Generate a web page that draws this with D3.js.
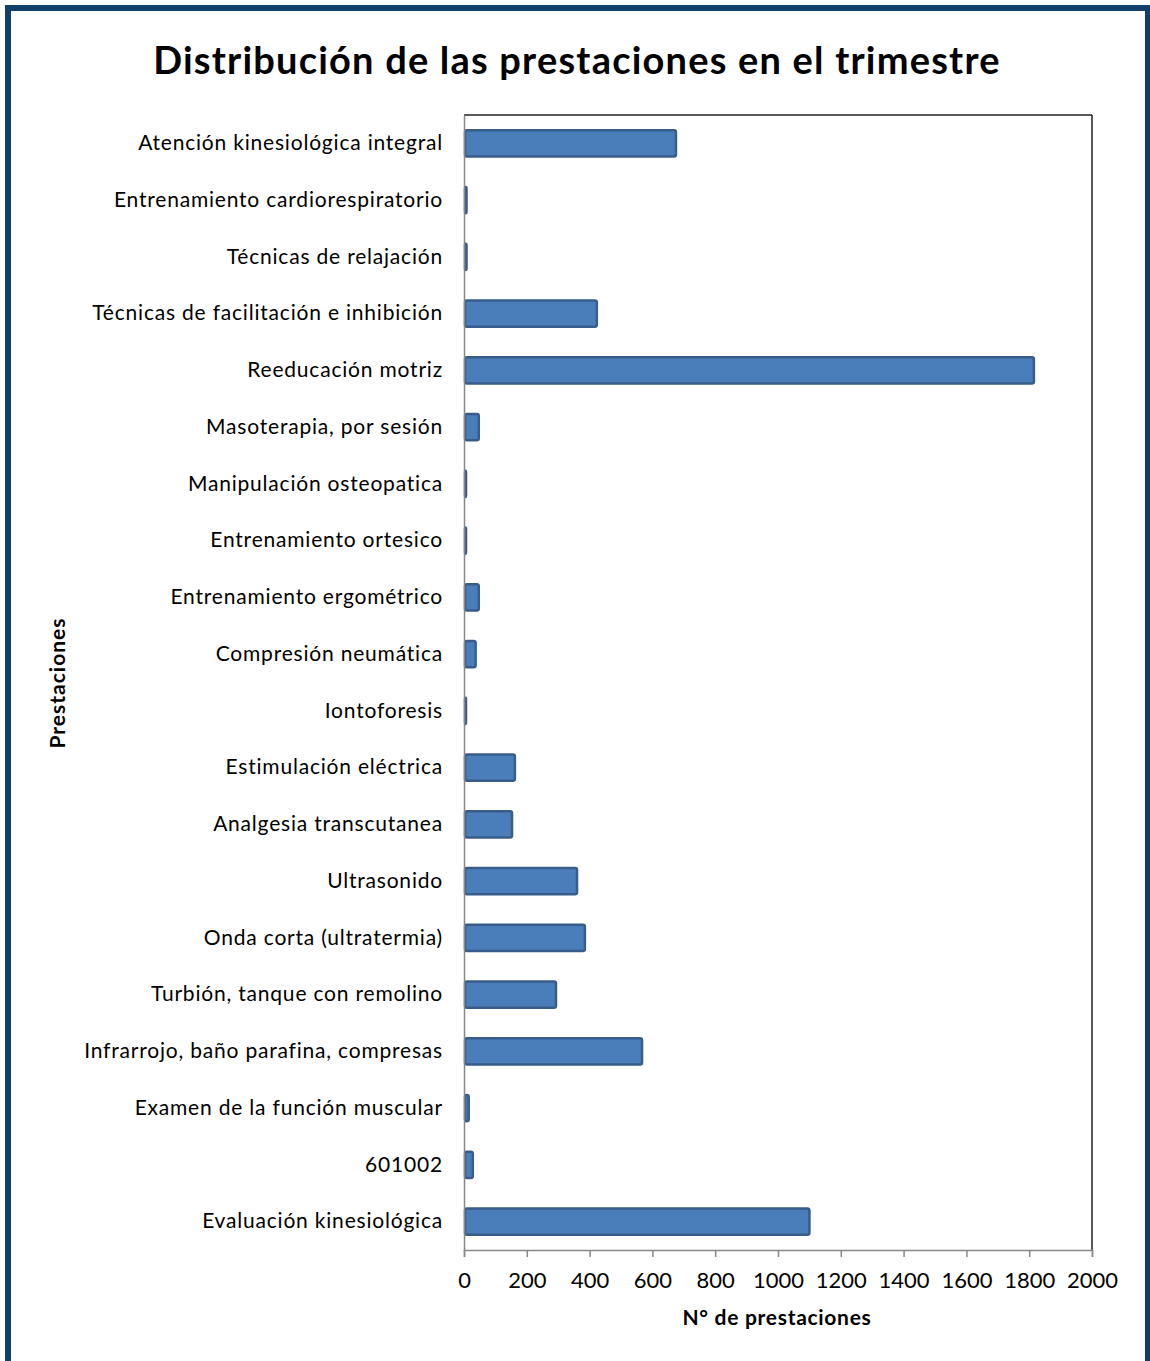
<!DOCTYPE html>
<html>
<head>
<meta charset="utf-8">
<script src="https://cdn.jsdelivr.net/npm/d3@7"></script>
<style>
  html, body { margin: 0; padding: 0; background: #fff; }
  svg { display: block; }
  text { font-family: Lato, "Open Sans", sans-serif; fill: #000; }
</style>
</head>
<body>
<svg id="chart" width="1150" height="1361"></svg>
<script>
const categories = [
  "Atención kinesiológica integral",
  "Entrenamiento cardiorespiratorio",
  "Técnicas de relajación",
  "Técnicas de facilitación e inhibición",
  "Reeducación motriz",
  "Masoterapia, por sesión",
  "Manipulación osteopatica",
  "Entrenamiento ortesico",
  "Entrenamiento ergométrico",
  "Compresión neumática",
  "Iontoforesis",
  "Estimulación eléctrica",
  "Analgesia transcutanea",
  "Ultrasonido",
  "Onda corta (ultratermia)",
  "Turbión, tanque con remolino",
  "Infrarrojo, baño parafina, compresas",
  "Examen de la función muscular",
  "601002",
  "Evaluación kinesiológica"
];
const values = [675, 8, 8, 423, 1815, 47, 6, 5, 47, 37, 5, 162, 153, 360, 385, 293, 567, 15, 28, 1100];
const xTicks = [0, 200, 400, 600, 800, 1000, 1200, 1400, 1600, 1800, 2000];
const title = "Distribución de las prestaciones en el trimestre";
const xTitle = "N° de prestaciones";
const yTitle = "Prestaciones";

const svg = d3.select("#chart");

// outer frame
svg.append("rect").attr("x", 8).attr("y", 8).attr("width", 1140).attr("height", 1420)
  .attr("fill", "#fff").attr("stroke", "#123e6c").attr("stroke-width", 6);

const plot = { left: 464, right: 1092, top: 115, bottom: 1250 };

const x = d3.scaleLinear().domain([0, 2000]).range([plot.left, plot.right]);
const y = d3.scaleBand().domain(categories).range([plot.top, plot.bottom]).paddingInner(0.54).paddingOuter(0.27);

// title
svg.append("text").attr("x", 577).attr("y", 74).attr("text-anchor", "middle")
  .style("font-size", "38px").style("font-weight", "bold").style("letter-spacing", "1.2px").text(title);

// plot border (top & right dark)
svg.append("line").attr("x1", plot.left).attr("x2", plot.right).attr("y1", plot.top).attr("y2", plot.top)
  .attr("stroke", "#222").attr("stroke-width", 1.5);
svg.append("line").attr("x1", plot.right).attr("x2", plot.right).attr("y1", plot.top).attr("y2", plot.bottom)
  .attr("stroke", "#222").attr("stroke-width", 1.5);

// bars
svg.append("g").selectAll("rect").data(values).join("rect")
  .attr("x", x(0) + 1)
  .attr("y", (d, i) => y(categories[i]))
  .attr("width", d => Math.max(x(d) - x(0) - 1, 1))
  .attr("height", y.bandwidth())
  .attr("rx", 2).attr("ry", 2)
  .attr("fill", "#4a7ebb").attr("stroke", "#385d8a").attr("stroke-width", 2.5);

// x axis
const xAxis = svg.append("g").attr("transform", `translate(0,${plot.bottom})`)
  .call(d3.axisBottom(x).tickValues(xTicks).tickSize(7).tickPadding(15).tickFormat(d3.format("d")));
xAxis.select(".domain").attr("stroke", "#888").attr("stroke-width", 1.5);
xAxis.selectAll(".tick line").attr("stroke", "#888").attr("stroke-width", 1.5);
xAxis.selectAll(".tick text").style("font-size", "22px").style("font-family", "Lato, sans-serif").attr("fill", "#000");

// y axis
const yAxis = svg.append("g").attr("transform", `translate(${plot.left},0)`)
  .call(d3.axisLeft(y).tickSize(0).tickPadding(21));
yAxis.select(".domain").attr("stroke", "#888").attr("stroke-width", 1.5);
yAxis.selectAll(".tick text").style("font-size", "21px").style("letter-spacing", "0.8px")
  .style("font-family", "Lato, sans-serif").attr("fill", "#000");

// axis titles
svg.append("text").attr("x", 777).attr("y", 1325).attr("text-anchor", "middle")
  .style("font-size", "21px").style("font-weight", "bold").style("letter-spacing", "0.7px").text(xTitle);
svg.append("text").attr("transform", "translate(65,683) rotate(-90)").attr("text-anchor", "middle")
  .style("font-size", "21px").style("font-weight", "bold").style("letter-spacing", "1px").text(yTitle);
</script>
</body>
</html>
